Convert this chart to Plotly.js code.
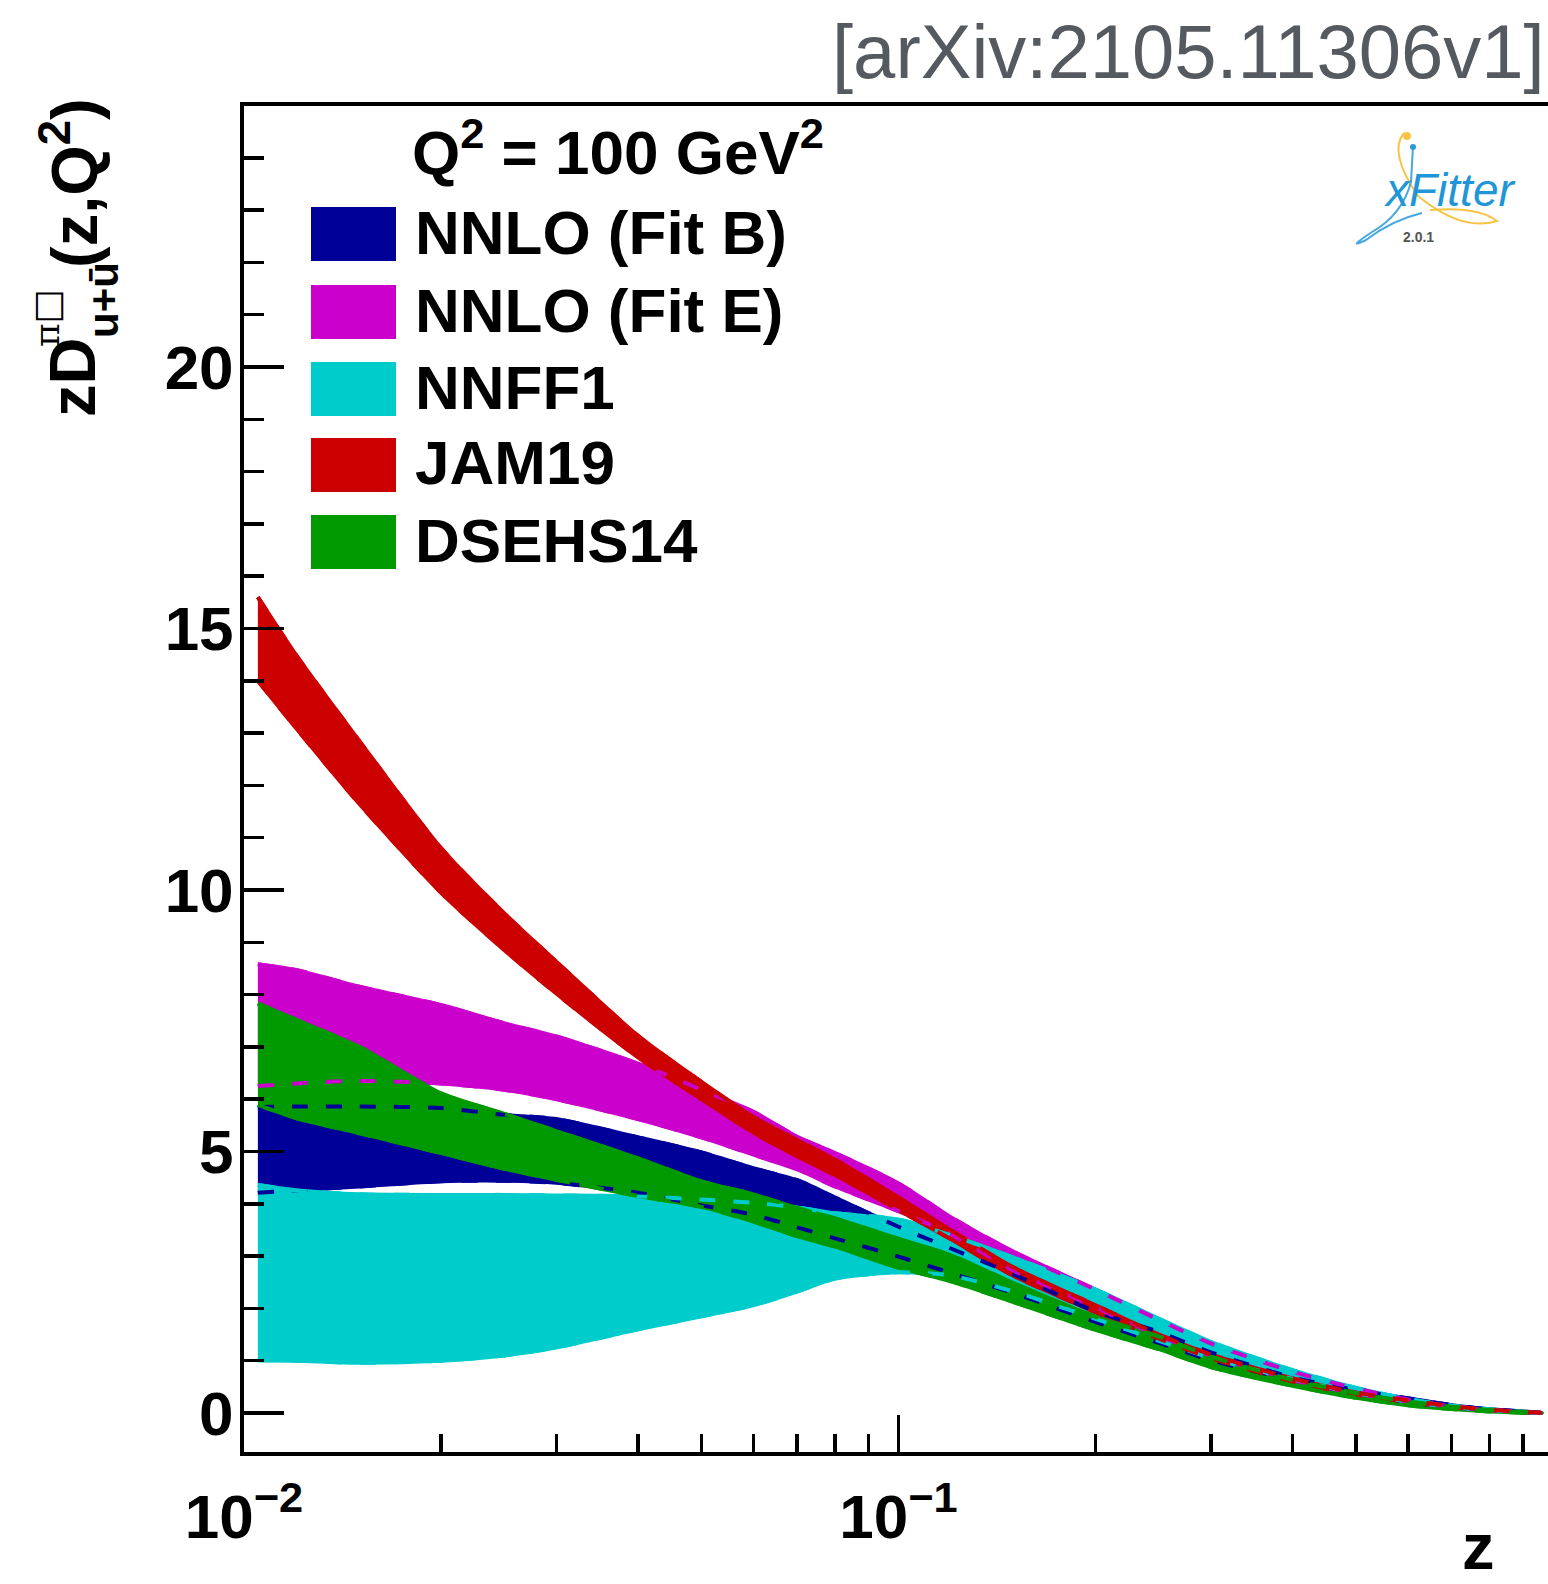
<!DOCTYPE html>
<html><head><meta charset="utf-8">
<script src="https://cdn.plot.ly/plotly-3.0.1.min.js"></script>
<style>html,body{margin:0;padding:0;background:#fff}</style>
</head><body><div id="chart" style="width:1548px;height:1584px"></div>
<script>
// ---------------- data ----------------
const z = [0.0105, 0.012, 0.015, 0.02, 0.025, 0.03, 0.04, 0.05, 0.06, 0.07, 0.08, 0.1, 0.12, 0.15, 0.2, 0.25, 0.3, 0.4, 0.5, 0.6, 0.7, 0.8, 0.9, 0.96];

const fitB_upper = [5.85, 5.86, 5.86, 5.83, 5.70, 5.62, 5.27, 4.98, 4.68, 4.45, 4.12, 3.56, 3.15, 2.65, 1.94, 1.55, 1.16, 0.68, 0.44, 0.28, 0.15, 0.07, 0.03, 0.0];
const fitB_lower = [4.21, 4.26, 4.33, 4.43, 4.44, 4.40, 4.21, 3.97, 3.79, 3.55, 3.34, 2.99, 2.68, 2.29, 1.74, 1.34, 1.01, 0.63, 0.37, 0.21, 0.11, 0.05, 0.015, 0.0];

const fitE_upper = [8.58, 8.47, 8.15, 7.80, 7.45, 7.20, 6.68, 6.18, 5.76, 5.28, 4.97, 4.39, 3.75, 3.08, 2.36, 1.78, 1.33, 0.79, 0.47, 0.26, 0.13, 0.06, 0.02, 0.0];
const fitE_lower = [6.25, 6.30, 6.35, 6.30, 6.18, 6.00, 5.62, 5.27, 4.94, 4.66, 4.33, 3.86, 3.42, 2.72, 2.02, 1.47, 1.09, 0.63, 0.37, 0.22, 0.12, 0.055, 0.02, 0.0];

const nnff1_upper = [4.36, 4.26, 4.18, 4.17, 4.17, 4.16, 4.14, 4.08, 4.02, 3.93, 3.82, 3.70, 3.40, 2.97, 2.36, 1.80, 1.36, 0.82, 0.48, 0.27, 0.14, 0.07, 0.025, 0.005];
const nnff1_lower = [1.01, 1.00, 0.96, 1.00, 1.10, 1.25, 1.60, 1.85, 2.06, 2.32, 2.57, 2.69, 2.63, 2.32, 1.80, 1.38, 1.05, 0.65, 0.38, 0.22, 0.11, 0.05, 0.015, 0.0];

const jam19_upper = [15.60, 14.50, 12.85, 10.80, 9.55, 8.63, 7.21, 6.33, 5.66, 5.22, 4.84, 4.12, 3.50, 2.78, 2.06, 1.50, 1.12, 0.66, 0.39, 0.24, 0.13, 0.065, 0.025, 0.005];
const jam19_lower = [14.00, 13.10, 11.65, 9.95, 8.85, 8.02, 6.80, 6.00, 5.36, 4.91, 4.55, 3.88, 3.33, 2.62, 1.93, 1.42, 1.05, 0.60, 0.35, 0.21, 0.11, 0.05, 0.015, 0.0];

const dsehs14_upper = [7.83, 7.52, 7.00, 6.11, 5.72, 5.39, 4.87, 4.43, 4.18, 3.92, 3.72, 3.33, 3.02, 2.48, 1.84, 1.46, 1.08, 0.63, 0.38, 0.22, 0.12, 0.055, 0.02, 0.005];
const dsehs14_lower = [5.89, 5.64, 5.35, 4.97, 4.67, 4.46, 4.15, 3.94, 3.66, 3.38, 3.18, 2.78, 2.52, 2.12, 1.59, 1.22, 0.88, 0.52, 0.29, 0.15, 0.075, 0.03, 0.005, 0.0];

const seriesNames = ["NNLO (Fit B)", "NNLO (Fit E)", "NNFF1", "JAM19", "DSEHS14"];
const xTickVals = [0.01, 0.1];
const xTickText = ["10<sup>−2</sup>", "10<sup>−1</sup>"];
const xMinorVals = [0.02, 0.03, 0.04, 0.05, 0.06, 0.07, 0.08, 0.09, 0.2, 0.3, 0.4, 0.5, 0.6, 0.7, 0.8, 0.9];
const yTickVals = [0, 5, 10, 15, 20];
const yTickText = ["0", "5", "10", "15", "20"];
const legendHeader = "Q<sup>2</sup> = 100 GeV<sup>2</sup>";
const stamp = "[arXiv:2105.11306v1]";

// ---------------- styles / layout ----------------
const colors = ["#000099", "#cc00cc", "#00cccc", "#cc0000", "#009900"];
const bands = [
  [fitB_upper, fitB_lower],
  [fitE_upper, fitE_lower],
  [nnff1_upper, nnff1_lower],
  [jam19_upper, jam19_lower],
  [dsehs14_upper, dsehs14_lower]
];

const W = 1548, H = 1584;
const M = {l: 244, r: 0, t: 106, b: 132};
const PW = W - M.l - M.r, PH = H - M.t - M.b;
const px = v => (v - M.l) / PW;          // pixel -> paper x
const py = v => (H - M.b - v) / PH;      // pixel -> paper y
const FONT = "Liberation Sans, Arial, Helvetica, sans-serif";

const traces = [];
bands.forEach((b, i) => {
  traces.push({
    x: z.concat(z.slice().reverse()),
    y: b[0].concat(b[1].slice().reverse()),
    type: "scatter", mode: "lines", fill: "toself",
    fillcolor: colors[i], line: {width: 4, color: colors[i], shape: "spline", smoothing: 0.7},
    hoverinfo: "skip", name: seriesNames[i]
  });
});
bands.forEach((b, i) => {
  [b[0], b[1]].forEach(edge => {
    traces.push({
      x: z, y: edge, type: "scatter", mode: "lines",
      line: {color: colors[i], width: 4, dash: "16px,18px", shape: "spline", smoothing: 0.7},
      hoverinfo: "skip", showlegend: false
    });
  });
});

const shapes = [];
const annotations = [];

// legend
const boxTops = [207, 285, 362, 438, 515];
const boxH = 54;
seriesNames.forEach((n, i) => {
  shapes.push({type: "rect", xref: "paper", yref: "paper",
    x0: px(311), x1: px(396), y0: py(boxTops[i] + boxH), y1: py(boxTops[i]),
    fillcolor: colors[i], line: {width: 0}, layer: "above"});
  annotations.push({xref: "paper", yref: "paper", x: px(413), y: py(boxTops[i] + boxH / 2 - 2),
    xanchor: "left", yanchor: "middle", showarrow: false, text: n,
    font: {family: FONT, size: 62, color: "#000", weight: "bold"}});
});
annotations.push({xref: "paper", yref: "paper", x: px(410), y: py(148),
  xanchor: "left", yanchor: "middle", showarrow: false, text: legendHeader,
  font: {family: FONT, size: 62, color: "#000", weight: "bold"}});

// arXiv stamp
annotations.push({xref: "paper", yref: "paper", x: px(1547), y: py(52),
  xanchor: "right", yanchor: "middle", showarrow: false, text: stamp,
  font: {family: FONT, size: 76, color: "#555a61"}});

// y-axis title pieces (rotated)
const tf = (s, w) => ({family: FONT, size: s, color: "#000", weight: w || "bold"});
annotations.push({xref: "paper", yref: "paper", x: px(73), y: py(378), textangle: -90,
  xanchor: "center", yanchor: "middle", showarrow: false, text: "zD", font: tf(65)});
annotations.push({xref: "paper", yref: "paper", x: px(46), y: py(318), textangle: -90,
  xanchor: "center", yanchor: "middle", showarrow: false, text: "π□",
  font: {family: "DejaVu Serif, serif", size: 36, color: "#000"}});
annotations.push({xref: "paper", yref: "paper", x: px(103), y: py(300), textangle: -90,
  xanchor: "center", yanchor: "middle", showarrow: false, text: "u+ū", font: tf(42)});
annotations.push({xref: "paper", yref: "paper", x: px(70), y: py(183), textangle: -90,
  xanchor: "center", yanchor: "middle", showarrow: false, text: "(z,Q<sup>2</sup>)", font: tf(65)});

// x-axis title
annotations.push({xref: "paper", yref: "paper", x: px(1478), y: py(1546),
  xanchor: "center", yanchor: "middle", showarrow: false, text: "z", font: tf(65)});

// xFitter logo (approximation)
const pth = pts => pts.map(p => (typeof p === "string" ? p : (px(p[0]).toFixed(5) + "," + py(p[1]).toFixed(5)))).join(" ");
shapes.push({type: "path", xref: "paper", yref: "paper", layer: "above",
  path: pth(["M", [1404, 133], "Q", [1388, 152], [1418, 196], "Q", [1462, 232], [1497, 221], "Q", [1478, 206], [1430, 210]]),
  line: {color: "#f6c445", width: 2}});
shapes.push({type: "path", xref: "paper", yref: "paper", layer: "above",
  path: pth(["M", [1413, 146], "L", [1411, 182], "Q", [1402, 215], [1372, 232], "Q", [1345, 250], [1366, 240], "Q", [1392, 220], [1422, 213]]),
  line: {color: "#45a8e0", width: 2}});
shapes.push({type: "circle", xref: "paper", yref: "paper", layer: "above",
  x0: px(1403), x1: px(1411), y0: py(140), y1: py(132), fillcolor: "#f6c445", line: {width: 0}});
shapes.push({type: "circle", xref: "paper", yref: "paper", layer: "above",
  x0: px(1410), x1: px(1416), y0: py(150), y1: py(144), fillcolor: "#2a9ad8", line: {width: 0}});
annotations.push({xref: "paper", yref: "paper", x: px(1449), y: py(190),
  xanchor: "center", yanchor: "middle", showarrow: false, text: "<i>xFitter</i>",
  font: {family: FONT, size: 46, color: "#2196d6"}});
annotations.push({xref: "paper", yref: "paper", x: px(1418), y: py(237),
  xanchor: "center", yanchor: "middle", showarrow: false, text: "2.0.1",
  font: {family: FONT, size: 14, color: "#555", weight: "bold"}});

const layout = {
  width: W, height: H, margin: M,
  paper_bgcolor: "#fff", plot_bgcolor: "#fff",
  showlegend: false,
  font: {family: FONT, color: "#000"},
  xaxis: {
    type: "log", range: [-2, -2 + PW / 654.5],
    tickmode: "array", tickvals: xTickVals, ticktext: xTickText,
    ticks: "inside", ticklen: 37, tickwidth: 3.5, tickcolor: "#000",
    minor: {tickmode: "array", tickvals: xMinorVals, ticks: "inside", ticklen: 18, tickwidth: 3.5, tickcolor: "#000"},
    showline: true, linewidth: 4, linecolor: "#000", mirror: true,
    showgrid: false, zeroline: false, ticklabelstandoff: 8,
    tickfont: {family: FONT, size: 62, color: "#000", weight: "bold"}
  },
  yaxis: {
    range: [-0.746, 24.99],
    tickmode: "array", tickvals: yTickVals, ticktext: yTickText,
    ticks: "inside", ticklen: 40, tickwidth: 3.5, tickcolor: "#000",
    minor: {dtick: 1, tick0: 0, ticks: "inside", ticklen: 20, tickwidth: 3.5, tickcolor: "#000"},
    showline: true, linewidth: 4, linecolor: "#000", mirror: false,
    showgrid: false, zeroline: false, ticklabelstandoff: -6,
    tickfont: {family: FONT, size: 62, color: "#000", weight: "bold"}
  },
  shapes: shapes,
  annotations: annotations
};

Plotly.newPlot("chart", traces, layout, {staticPlot: true, displayModeBar: false});
</script>
</body></html>
